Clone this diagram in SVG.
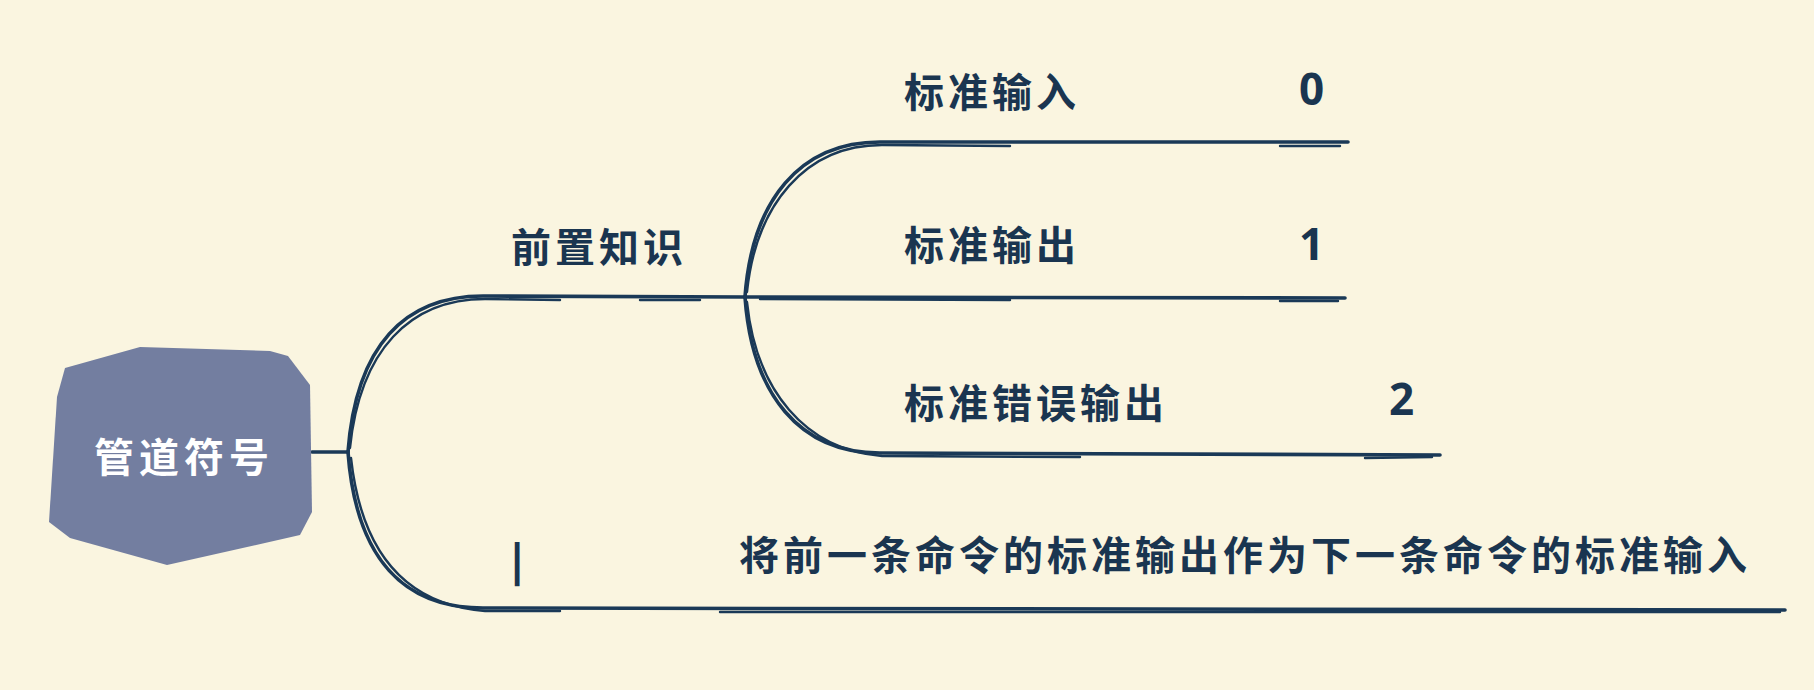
<svg xmlns="http://www.w3.org/2000/svg" width="1814" height="690" viewBox="0 0 1814 690">
<style>
.bg{fill:#faf5e0}
.ln{fill:none;stroke:#1a3957;stroke-width:3.6;stroke-linecap:round;stroke-linejoin:round}
.ln2{fill:none;stroke:#1a3957;stroke-width:2.4;stroke-linecap:round;stroke-linejoin:round}
.t{font-family:"Noto Sans CJK SC","Noto Sans",sans-serif;font-weight:700;font-size:40px;fill:#1a3550;letter-spacing:4px}
.n{font-family:"Noto Sans","DejaVu Sans",sans-serif;font-weight:700;font-size:44px;fill:#1a3550}
.w{font-family:"Noto Sans CJK SC",sans-serif;font-weight:700;font-size:40px;fill:#ffffff;letter-spacing:5px}
</style>
<rect class="bg" x="0" y="0" width="1814" height="690"/>
<g id="connectors">
  <line class="ln" x1="312" y1="452" x2="348" y2="452"/>
  <path class="ln" d="M348,452 C356,345 405,296 483,296 L745,297"/>
  <path class="ln2" d="M350,448 C360,350 410,299 485,299 L560,300 M640,300 L700,300"/>
  <path class="ln" d="M348,452 C356,560 405,608 483,608 L1785,610"/>
  <path class="ln2" d="M351,458 C362,558 410,605 485,611 L560,611 M720,612 L1780,612"/>
  <path class="ln" d="M745,297 C752,200 800,142 880,142 L1348,142"/>
  <path class="ln2" d="M747,292 C756,205 805,145 882,145 L1010,146 M1280,146 L1340,146"/>
  <path class="ln" d="M745,297 L1345,298"/>
  <path class="ln2" d="M760,299 L1010,300 M1280,301 L1338,301"/>
  <path class="ln" d="M745,297 C752,395 800,453 880,453 L1440,455"/>
  <path class="ln2" d="M747,302 C756,390 805,450 882,456 L1080,457 M1365,458 L1432,457"/>
</g>
<g id="root">
  <polygon points="65,368 140,347 270,351 288,356 310,385 312,512 300,535 167,565 70,538 49,522 57,397" fill="#737ea0"/>
  <text class="w" x="94" y="472">管道符号</text>
</g>
<g id="prior">
  <text class="t" x="511" y="262">前置知识</text>
</g>
<g id="stdin">
  <text class="t" x="904" y="107">标准输入</text>
  <text class="n" x="1299" y="105">0</text>
</g>
<g id="stdout">
  <text class="t" x="904" y="260">标准输出</text>
  <text class="n" x="1299" y="260">1</text>
</g>
<g id="stderr">
  <text class="t" x="904" y="418">标准错误输出</text>
  <text class="n" x="1389" y="415">2</text>
</g>
<g id="pipe">
  <text class="n" x="505" y="576">|</text>
  <text class="t" x="739" y="570">将前一条命令的标准输出作为下一条命令的标准输入</text>
</g>
</svg>
